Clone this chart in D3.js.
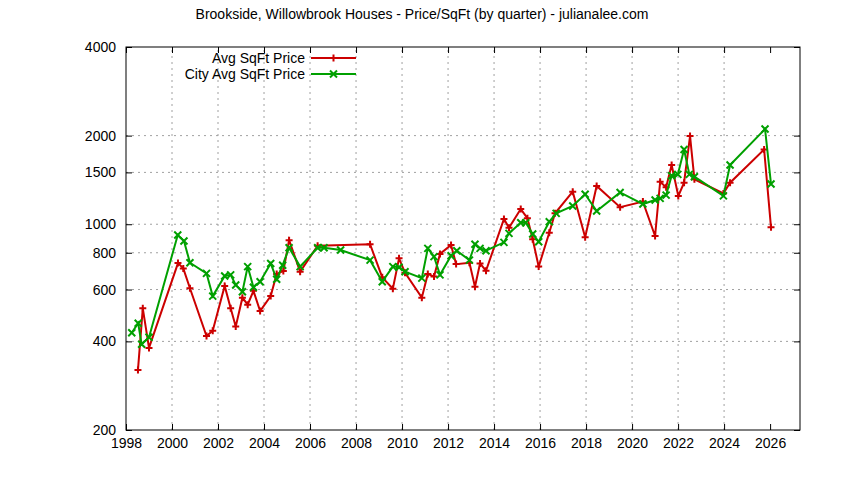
<!DOCTYPE html>
<html>
<head>
<meta charset="utf-8">
<script src="https://cdn.jsdelivr.net/npm/d3@7"></script>
<style>
  body { margin: 0; background: #fff; }
  text { font-family: "Liberation Sans", Arial, sans-serif; }
</style>
</head>
<body>
<div id="chart"></div>
<script>
// data (decimal year, $/sqft)
var avgYears = [1998.52, 1998.73, 1999.0, 2000.26, 2000.49, 2000.78, 2001.5, 2001.77, 2002.29, 2002.55,
    2002.77, 2003.06, 2003.29, 2003.54, 2003.83, 2004.29, 2004.55, 2004.84, 2005.09, 2005.57,
    2006.33, 2008.61, 2009.14, 2009.6, 2009.87, 2010.13, 2010.86, 2011.12, 2011.39, 2011.65,
    2012.13, 2012.35, 2012.93, 2013.17, 2013.39, 2013.65, 2014.43, 2014.65, 2015.16, 2015.45,
    2015.68, 2015.94, 2016.4, 2016.65, 2017.42, 2017.96, 2018.46, 2019.48, 2020.47, 2021.0,
    2021.22, 2021.48, 2021.72, 2022.01, 2022.26, 2022.52, 2022.71, 2023.97, 2024.26, 2025.74, 2026.04]
var avgPrice = [320, 518, 380, 738, 708, 606, 417, 435, 617, 518,
    449, 563, 533, 594, 507, 570, 678, 693, 883, 690,
    845, 855, 660, 604, 766, 684, 563, 678, 664, 793,
    850, 732, 740, 613, 736, 695, 1042, 972, 1126, 1048,
    889, 718, 936, 1089, 1290, 903, 1349, 1142, 1194, 912,
    1394, 1335, 1589, 1248, 1384, 1993, 1422, 1273, 1384, 1795, 976]

var cityYears = [1998.25, 1998.53, 1998.68, 1999.0, 2000.25, 2000.52, 2000.78, 2001.5, 2001.77, 2002.29,
    2002.55, 2002.77, 2003.06, 2003.29, 2003.54, 2003.83, 2004.29, 2004.55, 2004.81, 2005.09,
    2005.57, 2006.33, 2006.61, 2007.33, 2008.61, 2009.14, 2009.6, 2009.87, 2010.13, 2010.86,
    2011.12, 2011.39, 2011.65, 2012.13, 2012.38, 2012.93, 2013.17, 2013.39, 2013.65, 2014.43,
    2014.65, 2015.16, 2015.38, 2015.68, 2015.94, 2016.4, 2016.7, 2017.42, 2017.96, 2018.46,
    2019.48, 2020.47, 2021.0, 2021.22, 2021.48, 2021.72, 2021.99, 2022.26, 2022.49, 2022.71,
    2023.97, 2024.26, 2025.78, 2026.04]
var cityPrice = [428, 461, 391, 413, 919, 877, 740, 681, 570, 667,
    673, 622, 590, 718, 611, 638, 736, 650, 726, 832,
    718, 832, 832, 817, 755, 638, 718, 714, 690, 656,
    828, 776, 673, 782, 813, 755, 855, 828, 813, 868,
    931, 1012, 1012, 927, 872, 1019, 1089, 1154, 1264, 1109,
    1282, 1171, 1209, 1224, 1256, 1462, 1477, 1795, 1477, 1450,
    1248, 1589, 2106, 1370]

var xTicks = d3.range(1998, 2027, 2)
var yTicks = [200, 400, 600, 800, 1000, 1500, 2000, 4000]

var W = 844, H = 480
var m = { left: 126, right: 44, top: 47, bottom: 50 }

var svg = d3.select('#chart').append('svg')
    .attr('width', W)
    .attr('height', H)

var x = d3.scaleLinear().domain([1998, 2027.3]).range([m.left, W - m.right])
var y = d3.scaleLog().domain([200, 4000]).range([H - m.bottom, m.top])

var red = '#cc0000', green = '#00a000'

// grid
svg.append('g').selectAll('line').data(xTicks.slice(1, -1)).enter().append('line')
    .attr('x1', d => x(d)).attr('x2', d => x(d))
    .attr('y1', y(200)).attr('y2', y(4000))
    .attr('stroke', '#a0a0a0').attr('stroke-dasharray', '2,4')
svg.append('g').selectAll('line').data(yTicks.slice(1, -1)).enter().append('line')
    .attr('x1', x.range()[0]).attr('x2', x.range()[1])
    .attr('y1', d => y(d)).attr('y2', d => y(d))
    .attr('stroke', '#a0a0a0').attr('stroke-dasharray', '2,4')

// axes (ticks pointing inward, mirrored)
var fs = '14px'
var axBottom = svg.append('g').attr('transform', 'translate(0,' + y(200) + ')')
    .call(d3.axisBottom(x).tickValues(xTicks).tickFormat(d3.format('d')).tickSizeInner(-6).tickSizeOuter(0).tickPadding(8))
var axTop = svg.append('g').attr('transform', 'translate(0,' + y(4000) + ')')
    .call(d3.axisTop(x).tickValues(xTicks).tickFormat('').tickSizeInner(-6).tickSizeOuter(0))
var axLeft = svg.append('g').attr('transform', 'translate(' + x.range()[0] + ',0)')
    .call(d3.axisLeft(y).tickValues(yTicks).tickFormat(d3.format('d')).tickSizeInner(-6).tickSizeOuter(0).tickPadding(10))
var axRight = svg.append('g').attr('transform', 'translate(' + x.range()[1] + ',0)')
    .call(d3.axisRight(y).tickValues(yTicks).tickFormat('').tickSizeInner(-6).tickSizeOuter(0))
;[axBottom, axTop, axLeft, axRight].forEach(g => {
    g.select('.domain').remove()
    g.attr('font-size', null).attr('font-family', null)
    g.selectAll('text').attr('font-size', fs).attr('fill', '#000')
    g.selectAll('line').attr('stroke', '#000')
})

svg.append('rect')
    .attr('x', x.range()[0]).attr('y', y(4000))
    .attr('width', x.range()[1] - x.range()[0]).attr('height', y(200) - y(4000))
    .attr('fill', 'none').attr('stroke', '#000')

// series
function plotSeries(xs, ys, color, marker) {
    var pts = xs.map((d, i) => [d, ys[i]])
    var line = d3.line().x(d => x(d[0])).y(d => y(d[1]))
    svg.append('path').datum(pts)
        .attr('d', line).attr('fill', 'none')
        .attr('stroke', color).attr('stroke-width', 2)
    var s = 3.5
    var sym = marker === '+'
        ? 'M' + (-s) + ',0H' + s + 'M0,' + (-s) + 'V' + s
        : 'M' + (-s) + ',' + (-s) + 'L' + s + ',' + s + 'M' + (-s) + ',' + s + 'L' + s + ',' + (-s)
    svg.append('g').selectAll('path').data(pts).enter().append('path')
        .attr('transform', d => 'translate(' + x(d[0]) + ',' + y(d[1]) + ')')
        .attr('d', sym).attr('stroke', color).attr('stroke-width', 2)
    return sym
}
var symRed = plotSeries(avgYears, avgPrice, red, '+')
var symGreen = plotSeries(cityYears, cityPrice, green, 'x')

// legend
var legend = [['Avg SqFt Price', red, symRed], ['City Avg SqFt Price', green, symGreen]]
legend.forEach((l, i) => {
    var ly = 58 + i * 16
    svg.append('text').attr('x', 305).attr('y', ly + 5).attr('text-anchor', 'end')
        .attr('font-size', fs).text(l[0])
    svg.append('line').attr('x1', 311).attr('x2', 356).attr('y1', ly).attr('y2', ly)
        .attr('stroke', l[1]).attr('stroke-width', 2)
    svg.append('path').attr('transform', 'translate(333.5,' + ly + ')')
        .attr('d', l[2]).attr('stroke', l[1]).attr('stroke-width', 2)
})

// title
svg.append('text').attr('x', 422).attr('y', 19).attr('text-anchor', 'middle')
    .attr('font-size', fs).text('Brookside, Willowbrook Houses - Price/SqFt (by quarter) - julianalee.com')
</script>
</body>
</html>
